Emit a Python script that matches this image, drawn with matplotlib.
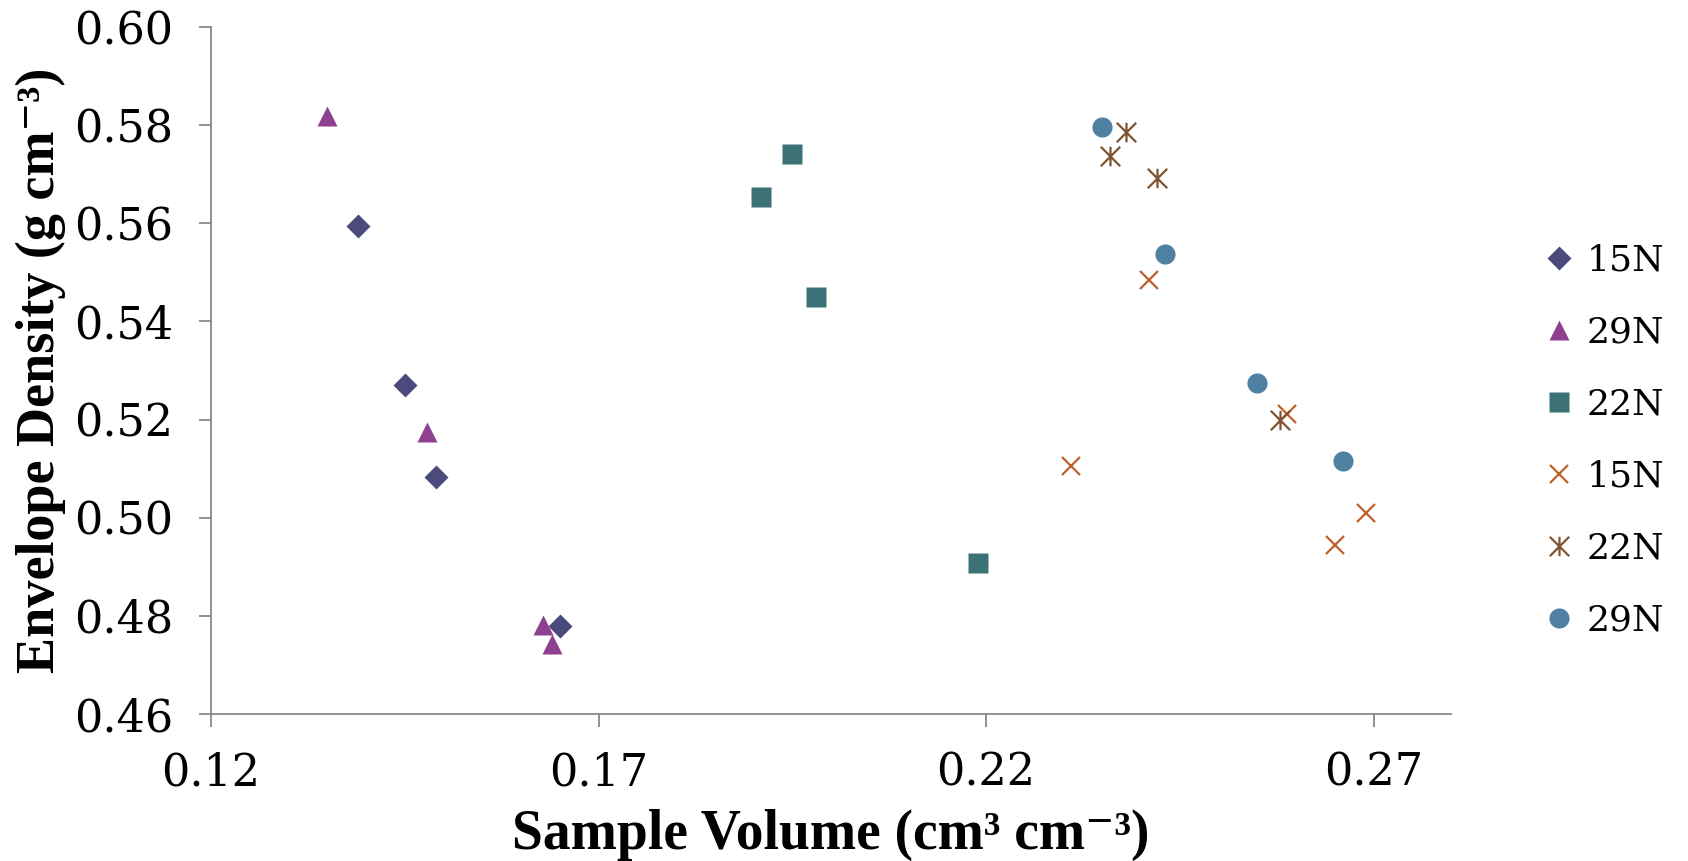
import numpy as np
import matplotlib
matplotlib.use("Agg")
import matplotlib.pyplot as plt
from matplotlib.path import Path

# sample volume (cm3 cm-3) and envelope density (g cm-3) per group
vol_15n_a = [0.1390, 0.1450, 0.1490, 0.1650]
dens_15n_a = [0.5594, 0.5271, 0.5083, 0.4780]

vol_29n_a = [0.1350, 0.1479, 0.1629, 0.1640]
dens_29n_a = [0.5818, 0.5175, 0.4782, 0.4743]

vol_22n_a = [0.1910, 0.1950, 0.1981, 0.2190]
dens_22n_a = [0.5653, 0.5741, 0.5449, 0.4907]

vol_15n_b = [0.2310, 0.2410, 0.2588, 0.2650, 0.2690]
dens_15n_b = [0.5105, 0.5484, 0.5212, 0.4944, 0.5010]

vol_22n_b = [0.2360, 0.2381, 0.2421, 0.2579]
dens_22n_b = [0.5737, 0.5787, 0.5693, 0.5199]

vol_29n_b = [0.2350, 0.2431, 0.2550, 0.2660]
dens_29n_b = [0.5796, 0.5537, 0.5274, 0.5116]

x_ticks = [0.12, 0.17, 0.22, 0.27]
y_ticks = [0.46, 0.48, 0.50, 0.52, 0.54, 0.56, 0.58, 0.60]

# star marker: vertical stroke plus an x
star = Path([(0, -1), (0, 1), (-1, -1), (1, 1), (-1, 1), (1, -1)],
            [Path.MOVETO, Path.LINETO, Path.MOVETO, Path.LINETO, Path.MOVETO, Path.LINETO])

label_font = ["Liberation Serif", "DejaVu Serif"]

fig = plt.figure(figsize=(16.88, 8.61), dpi=100)
ax = fig.add_axes([0.125, 0.1707, 0.7346, 0.7979])

ax.plot(vol_15n_a, dens_15n_a, ls="none", marker="D", ms=12, color="#4a4a7c", mec="none", label="15N")
ax.plot(vol_29n_a, dens_29n_a, ls="none", marker="^", ms=15, color="#8f4191", mec="none", label="29N")
ax.plot(vol_22n_a, dens_22n_a, ls="none", marker="s", ms=14, color="#3c7276", mec="none", label="22N")
ax.plot(vol_15n_b, dens_15n_b, ls="none", marker="x", ms=13, mew=1.6, color="#bf5f2a", label="15N")
ax.plot(vol_22n_b, dens_22n_b, ls="none", marker=star, ms=14, mew=1.6, color="#7e5431", label="22N")
ax.plot(vol_29n_b, dens_29n_b, ls="none", marker="o", ms=14.5, color="#5081a3", mec="none", label="29N")

ax.set_xlim(0.12, 0.28)
ax.set_ylim(0.46, 0.60)
ax.set_xticks(x_ticks)
ax.set_yticks(y_ticks)
ax.set_xticklabels(["%.2f" % v for v in x_ticks])
ax.set_yticklabels(["%.2f" % v for v in y_ticks])

for side in ["top", "right"]:
    ax.spines[side].set_visible(False)
for side in ["left", "bottom"]:
    ax.spines[side].set_color("#898989")
    ax.spines[side].set_linewidth(1.3)
ax.tick_params(axis="both", direction="out", length=9, width=1.3, color="#898989",
               labelsize=32)
for lab in ax.get_xticklabels() + ax.get_yticklabels():
    lab.set_family("DejaVu Serif")
ax.tick_params(axis="y", pad=18)
ax.tick_params(axis="x", pad=18)

ax.set_xlabel("Sample Volume (cm³ cm⁻³)", family=label_font, fontweight="bold",
              fontsize=40, labelpad=10)
ax.set_ylabel("Envelope Density (g cm⁻³)", family=label_font, fontweight="bold",
              fontsize=39, labelpad=6)

leg = ax.legend(loc="center left", bbox_to_anchor=(1.061, 0.398), frameon=False,
                prop={"family": "DejaVu Serif", "size": 26}, handletextpad=0.25,
                labelspacing=1.05, handlelength=1.0, borderaxespad=0)

fig.savefig("out.png", dpi=100)
